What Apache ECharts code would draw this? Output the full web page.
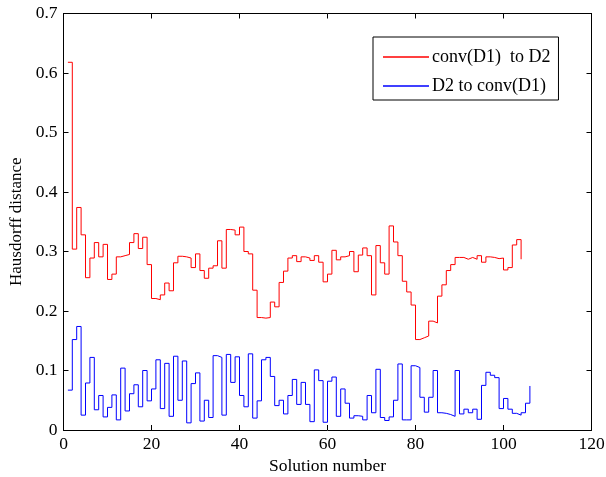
<!DOCTYPE html>
<html>
<head>
<meta charset="utf-8">
<script src="https://cdn.jsdelivr.net/npm/echarts@6/dist/echarts.min.js"></script>
<style>
  html, body { margin: 0; padding: 0; background: #fff; }
  #chart { width: 606px; height: 477px; }
</style>
</head>
<body>
<div id="chart"></div>
<script>
// conv(D1) to D2, solutions 1..104
const convToD2 = [
  0.618, 0.304, 0.374, 0.328, 0.256, 0.289, 0.315, 0.291, 0.312, 0.253,
  0.262, 0.291, 0.293, 0.295, 0.315, 0.330, 0.305, 0.324, 0.278, 0.221,
  0.219, 0.227, 0.247, 0.234, 0.281, 0.292, 0.291, 0.289, 0.273, 0.296,
  0.268, 0.255, 0.272, 0.276, 0.318, 0.272, 0.337, 0.336, 0.328, 0.341,
  0.300, 0.296, 0.235, 0.189, 0.188, 0.189, 0.215, 0.207, 0.248, 0.267,
  0.289, 0.293, 0.283, 0.291, 0.289, 0.285, 0.293, 0.282, 0.249, 0.262,
  0.302, 0.286, 0.291, 0.293, 0.300, 0.266, 0.294, 0.306, 0.293, 0.227,
  0.310, 0.281, 0.262, 0.343, 0.316, 0.293, 0.250, 0.232, 0.210, 0.152,
  0.155, 0.158, 0.183, 0.180, 0.225, 0.244, 0.268, 0.278, 0.290, 0.290,
  0.287, 0.290, 0.287, 0.293, 0.282, 0.291, 0.290, 0.288, 0.289, 0.269,
  0.273, 0.311, 0.320, 0.287
];

// D2 to conv(D1), solutions 1..106
const d2ToConv = [
  0.067, 0.152, 0.174, 0.025, 0.079, 0.122, 0.034, 0.058, 0.022, 0.038,
  0.059, 0.017, 0.104, 0.032, 0.061, 0.076, 0.039, 0.100, 0.049, 0.069,
  0.118, 0.036, 0.112, 0.023, 0.124, 0.050, 0.116, 0.012, 0.078, 0.096,
  0.015, 0.050, 0.021, 0.125, 0.122, 0.025, 0.127, 0.080, 0.123, 0.058,
  0.039, 0.128, 0.020, 0.049, 0.118, 0.122, 0.090, 0.041, 0.050, 0.027,
  0.058, 0.085, 0.043, 0.080, 0.043, 0.014, 0.101, 0.083, 0.013, 0.082,
  0.089, 0.023, 0.069, 0.045, 0.020, 0.024, 0.023, 0.017, 0.058, 0.029,
  0.102, 0.021, 0.016, 0.022, 0.050, 0.111, 0.017, 0.017, 0.108, 0.105,
  0.055, 0.030, 0.055, 0.100, 0.029, 0.028, 0.026, 0.023, 0.100, 0.027,
  0.035, 0.029, 0.035, 0.018, 0.075, 0.097, 0.092, 0.088, 0.036, 0.053,
  0.035, 0.028, 0.025, 0.029, 0.045, 0.074
];

const xTicks = [0, 20, 40, 60, 80, 100, 120];
const yTicks = [0, 0.1, 0.2, 0.3, 0.4, 0.5, 0.6, 0.7];

const font = 'Liberation Serif';
const toPairs = arr => arr.map((v, i) => [i + 1, v]);

const chart = echarts.init(document.getElementById('chart'));

const baseX = {
  type: 'value',
  min: xTicks[0],
  max: xTicks[xTicks.length - 1],
  interval: 20,
  axisLine: { show: true, onZero: false, lineStyle: { color: '#000', width: 1 } },
  axisTick: { show: true, inside: true, length: 5, lineStyle: { color: '#000' } },
  splitLine: { show: false }
};
const baseY = {
  type: 'value',
  min: yTicks[0],
  max: yTicks[yTicks.length - 1],
  interval: 0.1,
  axisLine: { show: true, onZero: false, lineStyle: { color: '#000', width: 1 } },
  axisTick: { show: true, inside: true, length: 5, lineStyle: { color: '#000' } },
  splitLine: { show: false }
};

chart.setOption({
  animation: false,
  backgroundColor: '#fff',
  grid: {
    left: 63.5, top: 13.5, right: 14.5, bottom: 47,
    containLabel: false, outerBoundsMode: 'none'
  },
  legend: {
    orient: 'vertical',
    left: 373,
    top: 37,
    padding: [11, 8, 5, 10],
    itemGap: 11,
    itemWidth: 46,
    itemHeight: 1.5,
    icon: 'rect',
    backgroundColor: '#fff',
    borderColor: '#000',
    borderWidth: 1,
    textStyle: { fontFamily: font, fontSize: 18, color: '#000', padding: [0, 0, 0, -2] },
    data: ['conv(D1)  to D2', 'D2 to conv(D1)']
  },
  xAxis: [
    Object.assign({}, baseX, {
      position: 'bottom',
      name: 'Solution number',
      nameLocation: 'middle',
      nameGap: 27,
      nameTextStyle: { fontFamily: font, fontSize: 17.5, color: '#000' },
      axisLabel: { fontFamily: font, fontSize: 17.5, color: '#000', margin: 5 }
    }),
    Object.assign({}, baseX, { position: 'top', axisLabel: { show: false } })
  ],
  yAxis: [
    Object.assign({}, baseY, {
      position: 'left',
      name: 'Hausdorff distance',
      nameLocation: 'middle',
      nameGap: 33,
      nameTextStyle: { fontFamily: font, fontSize: 17, color: '#000' },
      axisLabel: { fontFamily: font, fontSize: 17.5, color: '#000', margin: 6 }
    }),
    Object.assign({}, baseY, { position: 'right', axisLabel: { show: false } })
  ],
  series: [
    {
      name: 'conv(D1)  to D2',
      type: 'line',
      step: 'end',
      showSymbol: false,
      color: '#ff0000',
      lineStyle: { color: '#ff0000', width: 1 },
      data: toPairs(convToD2)
    },
    {
      name: 'D2 to conv(D1)',
      type: 'line',
      step: 'end',
      showSymbol: false,
      color: '#0000ff',
      lineStyle: { color: '#0000ff', width: 1 },
      data: toPairs(d2ToConv)
    }
  ]
});
</script>
</body>
</html>
